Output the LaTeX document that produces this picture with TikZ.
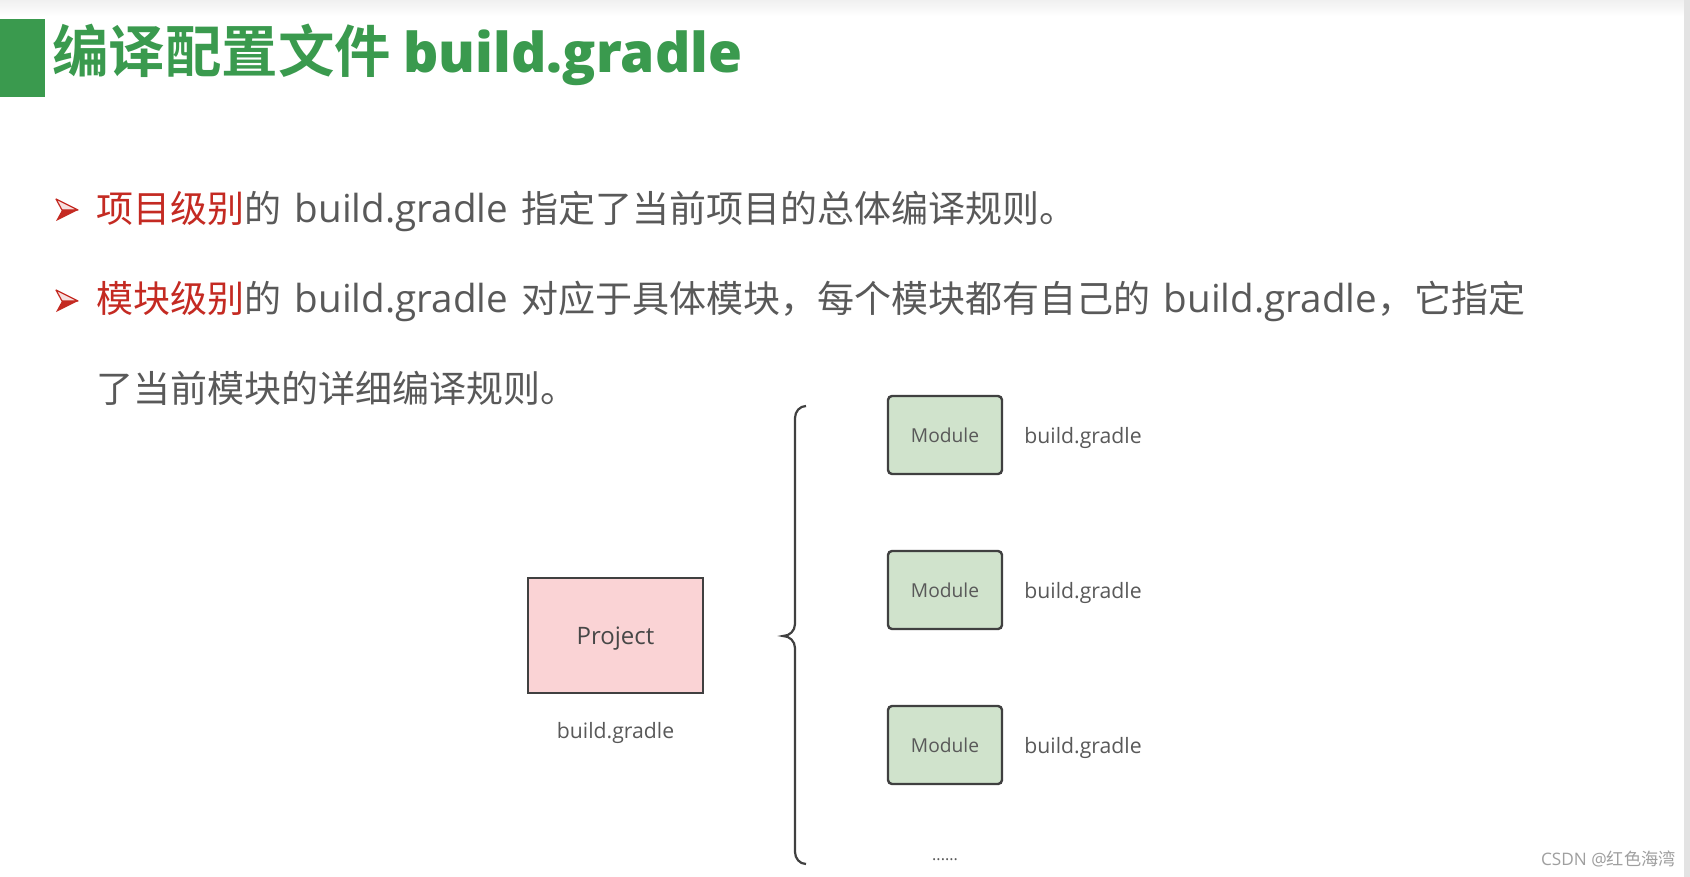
\documentclass[tikz,border=0pt]{standalone}
\usepackage{fontspec}
\setmainfont{Noto Sans CJK SC}[BoldFont=* Bold]
\newfontfamily\latin{Open Sans}
\newfontfamily\latinbold{Open Sans Bold}
\usetikzlibrary{positioning}

\definecolor{titlegreen}{HTML}{3A9A4E}
\definecolor{keyred}{HTML}{C42A22}
\definecolor{bodygray}{HTML}{595959}
\definecolor{projfill}{HTML}{FAD3D5}
\definecolor{modfill}{HTML}{D0E3CC}
\definecolor{boxline}{HTML}{404040}

\tikzset{
  bodyline/.style={anchor=west, inner sep=0pt, text=bodygray,
    font=\fontsize{18.5pt}{22pt}\selectfont},
  projbox/.style={draw=boxline, line width=1.2pt, fill=projfill,
    minimum width=87.5pt, minimum height=57.5pt, inner sep=0pt, text depth=0pt,
    text=bodygray!80!black, font=\latin\fontsize{12pt}{14pt}\selectfont},
  modbox/.style={draw=boxline, line width=1.2pt, fill=modfill, rounded corners=2pt,
    minimum width=57pt, minimum height=39pt, inner sep=0pt,
    text=bodygray, font=\latin\fontsize{9.6pt}{12pt}\selectfont},
  gradlelabel/.style={inner sep=0pt, text depth=0pt, text=bodygray,
    font=\latin\fontsize{10.6pt}{13pt}\selectfont},
}

\newcommand{\lat}[1]{{\latin\fontsize{19.3pt}{22pt}\selectfont #1}}
\newcommand{\gap}{\hspace{0.36em}}
\newcommand{\bulletmark}[1]{%
  \fill[keyred!15] (56,#1-11) -- (78,#1) -- (62,#1) -- cycle;
  \draw[keyred, line width=0.6pt, line join=round] (56,#1-11) -- (78,#1) -- (62,#1) -- cycle;
  \fill[keyred] (62,#1) -- (78,#1) -- (56,#1+11) -- cycle;
}

\begin{document}
\begin{tikzpicture}[x=0.5pt, y=-0.5pt]
    \useasboundingbox (0,0) rectangle (1690,877);
    % 背景
    \fill[white] (0,0) rectangle (1690,877);
    \fill[top color=gray!12, bottom color=white] (0,0) rectangle (1684,16);
    \fill[gray!22] (1684,0) rectangle (1690,877);

    % 标题
    \fill[titlegreen] (0,19) rectangle (45,97);
    \node[anchor=west, inner sep=0pt, text=titlegreen,
      font=\bfseries\fontsize{28.2pt}{32pt}\selectfont] (title) at (52,55)
      {编译配置文件 {\latinbold\fontsize{27.5pt}{32pt}\selectfont build.gradle}};

    % 要点
    \bulletmark{210}
    \node[bodyline] (line1) at (96,211)
      {\textcolor{keyred}{项目级别}的\gap\lat{build.gradle}\gap 指定了当前项目的总体编译规则。};
    \bulletmark{301}
    \node[bodyline] (line2) at (96,301)
      {\textcolor{keyred}{模块级别}的\gap\lat{build.gradle}\gap 对应于具体模块，每个模块都有自己的\gap\lat{build.gradle}，它指定};
    \node[bodyline] (line3) at (96,388) {了当前模块的详细编译规则。};

    % 项目
    \node[projbox] (proj) at (615.5,635.5) {Project};
    \node[gradlelabel] (projfile) at (615.5,730) {build.gradle};

    % 大括号
    \draw[boxline, line width=1.1pt]
      (806,406) to[out=180,in=90] (795,418) -- (795,624)
      to[out=-90,in=0] (783,636) to[out=0,in=90] (795,648)
      -- (795,852) to[out=-90,in=180] (806,864);

    % 模块
    \foreach \i/\y in {1/435, 2/590, 3/745} {
        \node[modbox] (mod\i) at (945,\y) {Module};
        \node[gradlelabel, anchor=west] (modfile\i) at (1024,\y) {build.gradle};
    }
    \node[gradlelabel, font=\latin\fontsize{8pt}{10pt}\selectfont] (moredots) at (945,860) {......};

    % 水印
    \node[anchor=east, inner sep=0pt, text=gray!75,
      font=\fontsize{8.6pt}{10pt}\selectfont] (mark) at (1676,859) {{\latin CSDN @}红色海湾};
\end{tikzpicture}
\end{document}
